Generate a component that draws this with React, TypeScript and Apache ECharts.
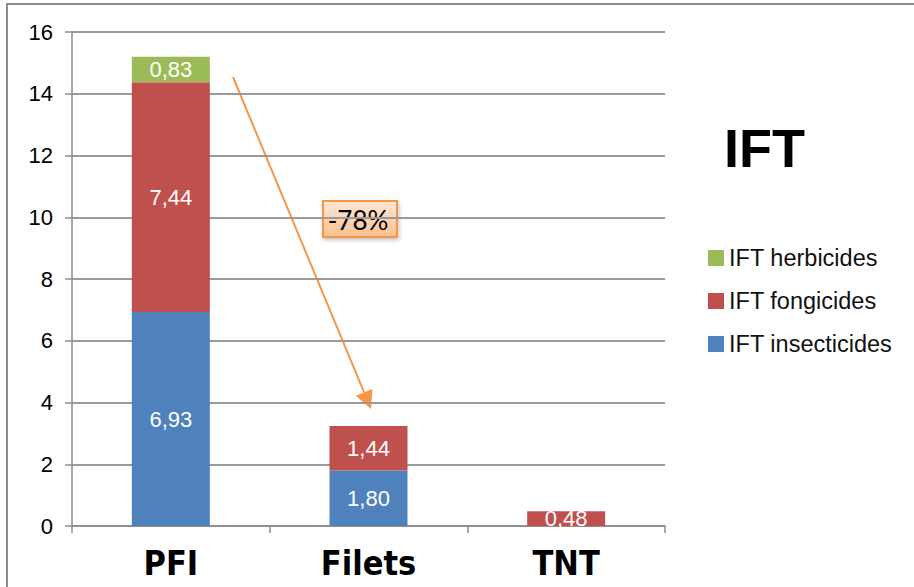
import React, { useEffect, useRef } from "react";
import * as echarts from "echarts";

const categories = ["PFI", "Filets", "TNT"];
const insecticides = [6.93, 1.8, 0];
const fongicides = [7.44, 1.44, 0.48];
const herbicides = [0.83, 0, 0];
const yTicks = { min: 0, max: 16, interval: 2 };
const seriesNames = ["IFT insecticides", "IFT fongicides", "IFT herbicides"];
const colors = ["#4F81BD", "#C0504D", "#9BBB59"];
const changeLabel = "-78%";
const titleText = "IFT";

const fmt = (v: number) => v.toFixed(2).replace(".", ",");

export default function App() {
  const ref = useRef<HTMLDivElement>(null);
  useEffect(() => {
    if (!ref.current) return;
    const chart = echarts.init(ref.current, null, { renderer: "svg" });
    const values = [insecticides, fongicides, herbicides];
    const tip = [371, 409];
    const start = [233, 77];
    const dx = tip[0] - start[0];
    const dy = tip[1] - start[1];
    const len = Math.sqrt(dx * dx + dy * dy);
    const ux = dx / len;
    const uy = dy / len;
    const hl = 18;
    const hw = 9;
    const bx = tip[0] - ux * hl;
    const by = tip[1] - uy * hl;
    const px = -uy * hw;
    const py = ux * hw;
    chart.setOption({
      animation: false,
      textStyle: { fontFamily: "Liberation Sans, Arial, sans-serif" },
      grid: { left: 72, top: 32, right: 249, bottom: 61, containLabel: false },
      title: { show: false },
      legend: {
        orient: "vertical",
        left: 703,
        top: 241,
        itemWidth: 16,
        itemHeight: 16,
        itemGap: 19,
        icon: "rect",
        data: ["IFT herbicides", "IFT fongicides", "IFT insecticides"],
        textStyle: { fontSize: 23.5, color: "#111", fontFamily: "Liberation Sans, Arial, sans-serif" },
      },
      xAxis: {
        type: "category",
        data: categories,
        axisLine: { lineStyle: { color: "#8C8C8C", width: 1.5 } },
        axisTick: { show: true, length: 7, lineStyle: { color: "#8C8C8C", width: 1.5 } },
        axisLabel: {
          margin: 20,
          fontSize: 34,
          fontWeight: "bold",
          color: "#000",
          fontFamily: "Liberation Sans Narrow, DejaVu Sans Condensed, Arial Narrow, sans-serif",
        },
      },
      yAxis: {
        type: "value",
        min: yTicks.min,
        max: yTicks.max,
        interval: yTicks.interval,
        axisLine: { show: true, lineStyle: { color: "#8C8C8C", width: 1.5 } },
        axisTick: { show: true, length: 7, lineStyle: { color: "#8C8C8C", width: 1.5 } },
        splitLine: { lineStyle: { color: "#9A9A9A", width: 2 } },
        axisLabel: { fontSize: 22, color: "#000", margin: 19 },
      },
      series: seriesNames.map((name, i) => ({
        name,
        type: "bar",
        stack: "ift",
        barWidth: 78,
        data: values[i],
        itemStyle: { color: colors[i] },
        label: {
          show: true,
          position: "inside",
          color: "#fff",
          fontSize: 22,
          formatter: (p: any) => (p.value > 0 ? fmt(p.value) : ""),
        },
      })),
      graphic: [
        {
          type: "rect",
          shape: { x: 7, y: 4, width: 1200, height: 1200 },
          style: { fill: "none", stroke: "#8C8C8C", lineWidth: 2 },
          silent: true,
        },
        {
          type: "text",
          left: 724,
          top: 121,
          style: {
            text: titleText,
            fontSize: 54,
            fontWeight: "bold",
            fill: "#000",
            fontFamily: "Liberation Sans, Arial, sans-serif",
          },
        },
        {
          type: "line",
          shape: { x1: start[0], y1: start[1], x2: bx, y2: by },
          style: { stroke: "#F79646", lineWidth: 2 },
        },
        {
          type: "polygon",
          shape: {
            points: [
              [tip[0], tip[1]],
              [bx + px, by + py],
              [bx - px, by - py],
            ],
          },
          style: { fill: "#F79646" },
        },
        {
          type: "rect",
          shape: { x: 323, y: 201, width: 74, height: 36 },
          style: {
            fill: new echarts.graphic.LinearGradient(0, 0, 0, 1, [
              { offset: 0, color: "#FEE8D8" },
              { offset: 1, color: "#FBC08E" },
            ]),
            stroke: "#F79646",
            lineWidth: 2,
            shadowBlur: 4,
            shadowOffsetX: 1,
            shadowOffsetY: 2,
            shadowColor: "rgba(0,0,0,0.25)",
          },
        },
        {
          type: "text",
          x: 358,
          y: 220,
          style: {
            text: changeLabel,
            fontSize: 26,
            fill: "#000",
            align: "center",
            verticalAlign: "middle",
            fontFamily: "Lato, Liberation Sans, sans-serif",
          },
        },
      ],
    });
    return () => chart.dispose();
  }, []);
  return (
    <div
      ref={ref}
      style={{ position: "fixed", left: 0, top: 0, width: 914, height: 587, background: "#fff" }}
    />
  );
}
